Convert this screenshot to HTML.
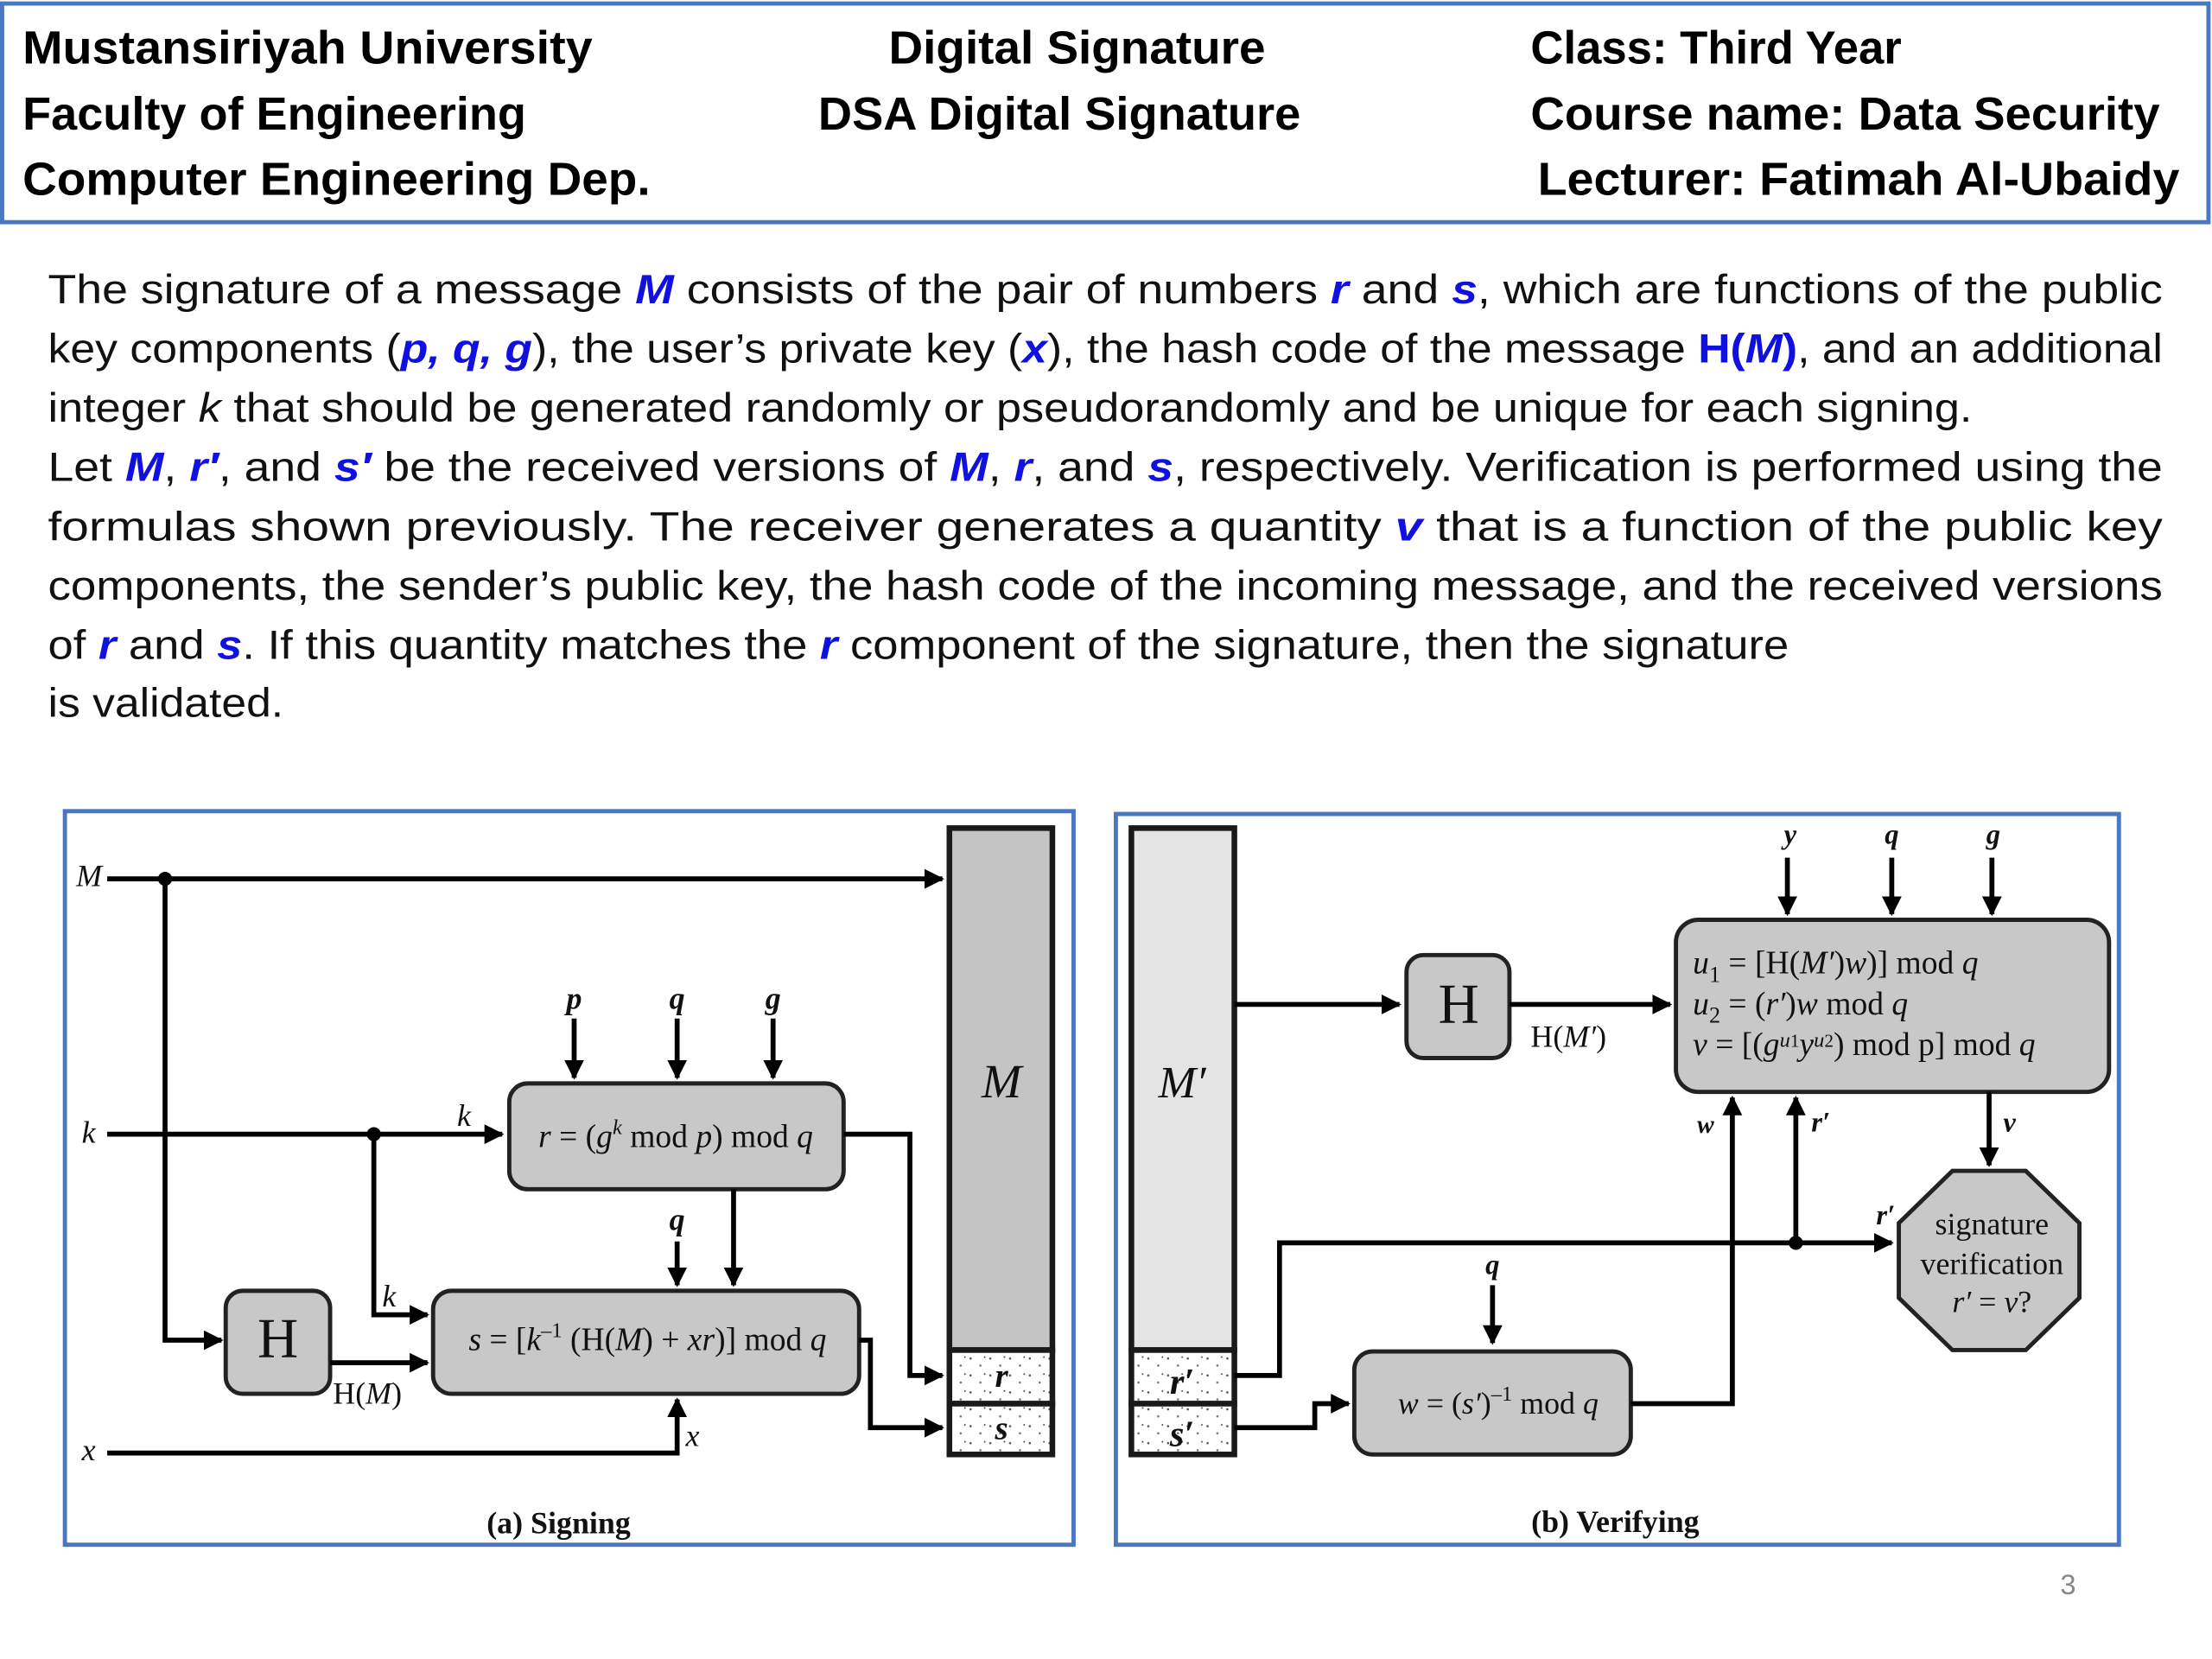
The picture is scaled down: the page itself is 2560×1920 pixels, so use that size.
<!DOCTYPE html>
<html><head><meta charset="utf-8"><style>
html,body{margin:0;padding:0;background:#fff;}
svg{display:block;}
.h{font-family:"Liberation Sans",sans-serif;font-weight:bold;font-size:33px;fill:#000;}
.p{font-family:"Liberation Sans",sans-serif;font-size:29px;fill:#111;}
.b{fill:#1010e0;font-weight:bold;font-style:italic;}
.s{font-family:"Liberation Serif",serif;fill:#111;}
.ln{stroke:#000;stroke-width:3.5;fill:none;}
.bx{fill:#c8c8c8;stroke:#222;stroke-width:3;}
</style></head><body>
<svg width="2560" height="1920" viewBox="0 0 1568 1176" preserveAspectRatio="none" xmlns="http://www.w3.org/2000/svg">
<defs>
<marker id="a" viewBox="0 0 10 10" refX="9" refY="5" markerWidth="4" markerHeight="4" orient="auto"><path d="M0,0 L10,5 L0,10 z" fill="#000"/></marker>
<pattern id="dots" width="14" height="12" patternUnits="userSpaceOnUse"><rect width="14" height="12" fill="#fff"/><circle cx="2" cy="3" r="0.8" fill="#555"/><circle cx="9" cy="8" r="0.8" fill="#777"/><circle cx="12" cy="2" r="0.6" fill="#444"/></pattern>
</defs>
<rect x="0" y="0" width="1568" height="1176" fill="#fff"/>
<!-- header -->
<rect x="1.5" y="2.5" width="1564" height="155" fill="#fff" stroke="#4a78c0" stroke-width="3"/>
<text class="h" x="16" y="45" textLength="404" lengthAdjust="spacingAndGlyphs">Mustansiriyah University</text>
<text class="h" x="16" y="92" textLength="357" lengthAdjust="spacingAndGlyphs">Faculty of Engineering</text>
<text class="h" x="16" y="138" textLength="445" lengthAdjust="spacingAndGlyphs">Computer Engineering Dep.</text>
<text class="h" x="630" y="45" textLength="267" lengthAdjust="spacingAndGlyphs">Digital Signature</text>
<text class="h" x="580" y="92" textLength="342" lengthAdjust="spacingAndGlyphs">DSA Digital Signature</text>
<text class="h" x="1085" y="45" textLength="263" lengthAdjust="spacingAndGlyphs">Class: Third Year</text>
<text class="h" x="1085" y="92" textLength="446" lengthAdjust="spacingAndGlyphs">Course name: Data Security</text>
<text class="h" x="1090" y="138" textLength="455" lengthAdjust="spacingAndGlyphs">Lecturer: Fatimah Al-Ubaidy</text>
<!-- paragraph -->
<text class="p" x="34" y="215" textLength="1499" lengthAdjust="spacingAndGlyphs">The signature of a message <tspan class="b">M</tspan> consists of the pair of numbers <tspan class="b">r</tspan> and <tspan class="b">s</tspan>, which are functions of the public</text>
<text class="p" x="34" y="257" textLength="1499" lengthAdjust="spacingAndGlyphs">key components (<tspan class="b">p, q, g</tspan>), the user’s private key (<tspan class="b">x</tspan>), the hash code of the message <tspan fill="#1010e0" font-weight="bold">H(<tspan font-style="italic">M</tspan>)</tspan>, and an additional</text>
<text class="p" x="34" y="299" textLength="1364" lengthAdjust="spacingAndGlyphs">integer <tspan font-style="italic">k</tspan> that should be generated randomly or pseudorandomly and be unique for each signing.</text>
<text class="p" x="34" y="341" textLength="1499" lengthAdjust="spacingAndGlyphs">Let <tspan class="b">M</tspan>, <tspan class="b">r′</tspan>, and <tspan class="b">s′</tspan> be the received versions of <tspan class="b">M</tspan>, <tspan class="b">r</tspan>, and <tspan class="b">s</tspan>, respectively. Verification is performed using the</text>
<text class="p" x="34" y="383" textLength="1499" lengthAdjust="spacingAndGlyphs">formulas  shown  previously.  The  receiver  generates  a  quantity  <tspan class="b">v</tspan>  that  is  a  function  of  the  public  key</text>
<text class="p" x="34" y="425" textLength="1499" lengthAdjust="spacingAndGlyphs">components, the sender’s public key, the hash code of the incoming message, and the received versions</text>
<text class="p" x="34" y="467" textLength="1234" lengthAdjust="spacingAndGlyphs">of <tspan class="b">r</tspan> and <tspan class="b">s</tspan>. If this quantity matches the <tspan class="b">r</tspan> component of the signature, then the signature</text>
<text class="p" x="34" y="508" textLength="167" lengthAdjust="spacingAndGlyphs">is validated.</text>

<!-- (a) Signing -->
<rect x="46" y="575" width="715" height="520" fill="#fff" stroke="#4a78c0" stroke-width="3"/>
<text class="s" x="54" y="628" font-size="22" font-style="italic">M</text>
<path class="ln" d="M76,623 H668" marker-end="url(#a)"/>
<circle cx="117" cy="623" r="5"/>
<path class="ln" d="M117,623 V950 H157" marker-end="url(#a)"/>
<rect class="bx" x="160" y="915" width="74" height="73" rx="12"/>
<text class="s" x="197" y="962" font-size="40" text-anchor="middle">H</text>
<text class="s" x="58" y="810" font-size="22" font-style="italic">k</text>
<path class="ln" d="M76,804 H356" marker-end="url(#a)"/>
<text class="s" x="324" y="798" font-size="22" font-style="italic">k</text>
<circle cx="265" cy="804" r="5"/>
<path class="ln" d="M265,804 V932 H303" marker-end="url(#a)"/>
<text class="s" x="271" y="926" font-size="22" font-style="italic">k</text>
<rect class="bx" x="361" y="768" width="237" height="75" rx="13"/>
<text class="s" x="479" y="813" font-size="23" text-anchor="middle"><tspan font-style="italic">r</tspan> = (<tspan font-style="italic">g</tspan><tspan font-size="15" dy="-9" font-style="italic">k</tspan><tspan dy="9"> mod </tspan><tspan font-style="italic">p</tspan>) mod <tspan font-style="italic">q</tspan></text>
<text class="s" x="407" y="715" font-size="22" font-style="italic" font-weight="bold" text-anchor="middle">p</text>
<text class="s" x="480" y="715" font-size="22" font-style="italic" font-weight="bold" text-anchor="middle">q</text>
<text class="s" x="548" y="715" font-size="22" font-style="italic" font-weight="bold" text-anchor="middle">g</text>
<path class="ln" d="M407,722 V764" marker-end="url(#a)"/>
<path class="ln" d="M480,722 V764" marker-end="url(#a)"/>
<path class="ln" d="M548,722 V764" marker-end="url(#a)"/>
<path class="ln" d="M598,804 H645 V975 H668" marker-end="url(#a)"/>
<path class="ln" d="M520,843 V911" marker-end="url(#a)"/>
<text class="s" x="480" y="872" font-size="22" font-style="italic" font-weight="bold" text-anchor="middle">q</text>
<path class="ln" d="M480,880 V911" marker-end="url(#a)"/>
<rect class="bx" x="307" y="915" width="302" height="73" rx="13"/>
<text class="s" x="459" y="957" font-size="23" text-anchor="middle"><tspan font-style="italic">s</tspan> = [<tspan font-style="italic">k</tspan><tspan font-size="15" dy="-9">–1</tspan><tspan dy="9"> (H(</tspan><tspan font-style="italic">M</tspan>) + <tspan font-style="italic">xr</tspan>)] mod <tspan font-style="italic">q</tspan></text>
<path class="ln" d="M234,966 H303" marker-end="url(#a)"/>
<text class="s" x="236" y="995" font-size="22">H(<tspan font-style="italic">M</tspan>)</text>
<text class="s" x="58" y="1035" font-size="22" font-style="italic">x</text>
<path class="ln" d="M76,1030 H480 V992" marker-end="url(#a)"/>
<text class="s" x="486" y="1025" font-size="22" font-style="italic">x</text>
<path class="ln" d="M609,950 H617 V1012 H668" marker-end="url(#a)"/>
<rect x="673" y="587" width="73" height="370" fill="#c4c4c4" stroke="#1a1a1a" stroke-width="4"/>
<rect x="673" y="957" width="73" height="38" fill="url(#dots)" stroke="#1a1a1a" stroke-width="4"/>
<rect x="673" y="995" width="73" height="36" fill="url(#dots)" stroke="#1a1a1a" stroke-width="4"/>
<text class="s" x="710" y="778" font-size="34" font-style="italic" text-anchor="middle">M</text>
<text class="s" x="710" y="983" font-size="24" font-style="italic" font-weight="bold" text-anchor="middle">r</text>
<text class="s" x="710" y="1020" font-size="24" font-style="italic" font-weight="bold" text-anchor="middle">s</text>
<text class="s" x="396" y="1087" font-size="22" font-weight="bold" text-anchor="middle">(a) Signing</text>

<!-- (b) Verifying -->
<rect x="791" y="577" width="711" height="518" fill="#fff" stroke="#4a78c0" stroke-width="3"/>
<rect x="802" y="587" width="73" height="370" fill="#e4e4e4" stroke="#1a1a1a" stroke-width="4"/>
<rect x="802" y="957" width="73" height="38" fill="url(#dots)" stroke="#1a1a1a" stroke-width="4"/>
<rect x="802" y="995" width="73" height="36" fill="url(#dots)" stroke="#1a1a1a" stroke-width="4"/>
<text class="s" x="838" y="778" font-size="32" font-style="italic" text-anchor="middle">M′</text>
<text class="s" x="838" y="988" font-size="26" font-style="italic" font-weight="bold" text-anchor="middle">r′</text>
<text class="s" x="838" y="1025" font-size="26" font-style="italic" font-weight="bold" text-anchor="middle">s′</text>
<path class="ln" d="M875,712 H992" marker-end="url(#a)"/>
<rect class="bx" x="997" y="677" width="73" height="73" rx="12"/>
<text class="s" x="1034" y="725" font-size="40" text-anchor="middle">H</text>
<path class="ln" d="M1070,712 H1184" marker-end="url(#a)"/>
<text class="s" x="1085" y="742" font-size="22">H(<tspan font-style="italic">M′</tspan>)</text>
<rect class="bx" x="1188" y="652" width="307" height="122" rx="16"/>
<text class="s" x="1200" y="690" font-size="23"><tspan font-style="italic">u</tspan><tspan font-size="16" dy="6">1</tspan><tspan dy="-6"> = [H(</tspan><tspan font-style="italic">M′</tspan>)<tspan font-style="italic">w</tspan>)] mod <tspan font-style="italic">q</tspan></text>
<text class="s" x="1200" y="719" font-size="23"><tspan font-style="italic">u</tspan><tspan font-size="16" dy="6">2</tspan><tspan dy="-6"> = (</tspan><tspan font-style="italic">r′</tspan>)<tspan font-style="italic">w</tspan> mod <tspan font-style="italic">q</tspan></text>
<text class="s" x="1200" y="748" font-size="23"><tspan font-style="italic">v</tspan> =  [(<tspan font-style="italic">g</tspan><tspan font-size="15" dy="-6" font-style="italic">u</tspan><tspan font-size="13">1</tspan><tspan font-style="italic" dy="6">y</tspan><tspan font-size="15" dy="-6" font-style="italic">u</tspan><tspan font-size="13">2</tspan><tspan dy="6">) mod p] mod </tspan><tspan font-style="italic">q</tspan></text>
<text class="s" x="1269" y="598" font-size="20" font-style="italic" font-weight="bold" text-anchor="middle">y</text>
<text class="s" x="1341" y="598" font-size="20" font-style="italic" font-weight="bold" text-anchor="middle">q</text>
<text class="s" x="1413" y="598" font-size="20" font-style="italic" font-weight="bold" text-anchor="middle">g</text>
<path class="ln" d="M1267,608 V648" marker-end="url(#a)"/>
<path class="ln" d="M1341,608 V648" marker-end="url(#a)"/>
<path class="ln" d="M1412,608 V648" marker-end="url(#a)"/>
<path class="ln" d="M1410,774 V826" marker-end="url(#a)"/>
<text class="s" x="1420" y="802" font-size="20" font-style="italic" font-weight="bold">v</text>
<polygon points="1384,830 1436,830 1474,867 1474,920 1436,957 1384,957 1346,920 1346,867" fill="#c8c8c8" stroke="#222" stroke-width="3"/>
<text class="s" x="1412" y="875" font-size="22" text-anchor="middle">signature</text>
<text class="s" x="1412" y="903" font-size="22" text-anchor="middle">verification</text>
<text class="s" x="1412" y="930" font-size="22" text-anchor="middle"><tspan font-style="italic">r′</tspan> = <tspan font-style="italic">v</tspan>?</text>
<path class="ln" d="M875,975 H907 V881 H1341" marker-end="url(#a)"/>
<circle cx="1273" cy="881" r="5"/>
<path class="ln" d="M1273,881 V778" marker-end="url(#a)"/>
<text class="s" x="1284" y="802" font-size="20" font-style="italic" font-weight="bold">r′</text>
<text class="s" x="1330" y="868" font-size="20" font-style="italic" font-weight="bold">r′</text>
<path class="ln" d="M875,1012 H932 V995 H956" marker-end="url(#a)"/>
<rect class="bx" x="960" y="958" width="196" height="73" rx="13"/>
<text class="s" x="1062" y="1002" font-size="22" text-anchor="middle"><tspan font-style="italic">w</tspan> = (<tspan font-style="italic">s′</tspan>)<tspan font-size="15" dy="-9">–1</tspan><tspan dy="9"> mod </tspan><tspan font-style="italic">q</tspan></text>
<path class="ln" d="M1156,995 H1228 V778" marker-end="url(#a)"/>
<text class="s" x="1203" y="803" font-size="18" font-style="italic" font-weight="bold">w</text>
<text class="s" x="1058" y="903" font-size="20" font-style="italic" font-weight="bold" text-anchor="middle">q</text>
<path class="ln" d="M1058,911 V952" marker-end="url(#a)"/>
<text class="s" x="1145" y="1086" font-size="22" font-weight="bold" text-anchor="middle">(b) Verifying</text>
<text x="1466" y="1130" font-family="Liberation Sans,sans-serif" font-size="20" fill="#888" text-anchor="middle">3</text>
</svg>
</body></html>
